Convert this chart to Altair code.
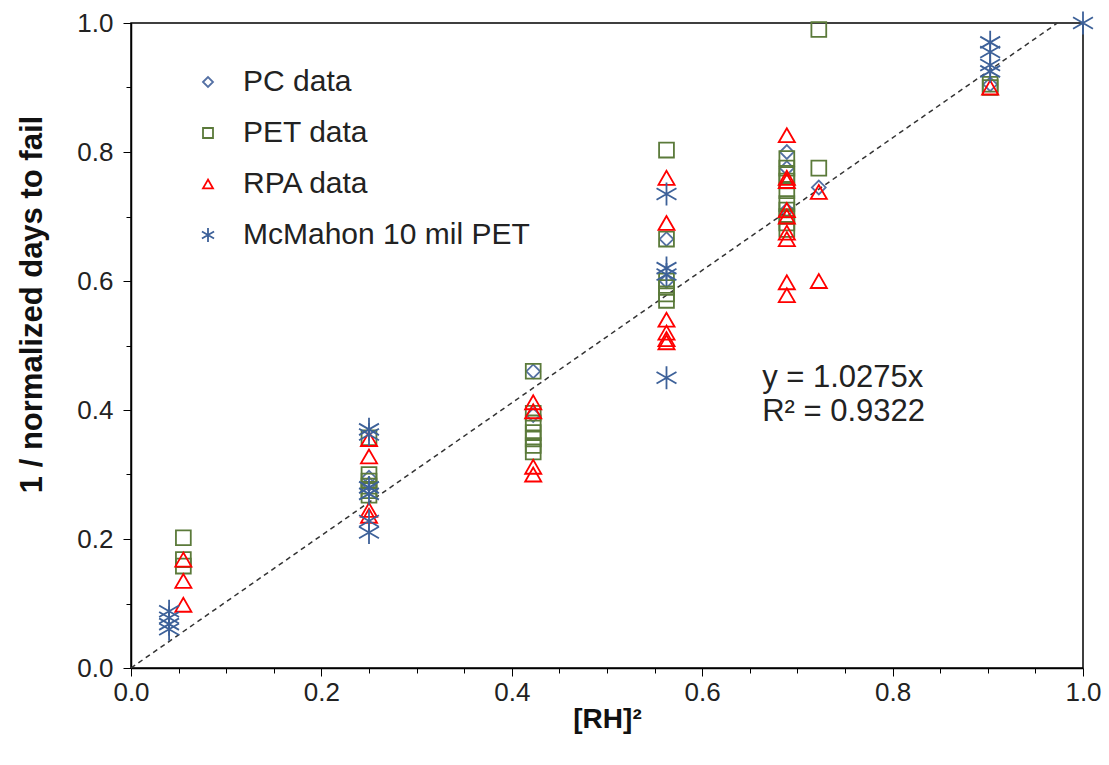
import altair as alt
import pandas as pd

# ---- data ----
pc_x = [0.25, 0.25, 0.4225, 0.4225, 0.5625, 0.5625, 0.6889, 0.6889, 0.6889, 0.7225, 0.9025]
pc_y = [0.295, 0.285, 0.46, 0.392, 0.665, 0.60, 0.80, 0.775, 0.71, 0.745, 0.905]

pet_x = [0.055] * 3 + [0.25] * 6 + [0.4225] * 7 + [0.5625] * 6 + [0.6889] * 10 + [0.7225] * 2 + [0.9025] * 2
pet_y = [0.202, 0.168, 0.158,
         0.357, 0.300, 0.290, 0.282, 0.275, 0.268,
         0.46, 0.395, 0.38, 0.365, 0.355, 0.345, 0.335,
         0.803, 0.665, 0.60, 0.59, 0.58, 0.57,
         0.79, 0.775, 0.765, 0.755, 0.74, 0.72, 0.71, 0.70, 0.69, 0.68,
         0.99, 0.775,
         0.905, 0.90]

rpa_x = [0.055] * 3 + [0.25] * 4 + [0.4225] * 4 + [0.5625] * 6 + [0.6889] * 9 + [0.7225] * 2 + [0.9025]
rpa_y = [0.168, 0.135, 0.098,
         0.355, 0.328, 0.245, 0.236,
         0.412, 0.398, 0.312, 0.300,
         0.76, 0.69, 0.54, 0.52, 0.51, 0.505,
         0.826, 0.76, 0.755, 0.71, 0.70, 0.675, 0.665, 0.598, 0.578,
         0.738, 0.60,
         0.90]

mcm_x = [0.04] * 4 + [0.25] * 6 + [0.5625] * 4 + [0.9025] * 4 + [1.0]
mcm_y = [0.088, 0.078, 0.068, 0.060,
         0.370, 0.362, 0.280, 0.270, 0.228, 0.210,
         0.735, 0.62, 0.61, 0.45,
         0.97, 0.955, 0.935, 0.925,
         1.0]

series_names = ["PC data", "PET data", "RPA data", "McMahon 10 mil PET"]
series_colors = ["#5470a4", "#5b7a3a", "#ff0000", "#3d6199"]
asterisk = "M0,-1.4L0,1.4M-1.212,-0.7L1.212,0.7M-1.212,0.7L1.212,-0.7"
series_shapes = ["diamond", "square", "triangle-up", asterisk]
series_sizes = [190, 220, 260, 270]

trend_x = [0.0, 0.9732]
trend_y = [0.0, 1.0]

eq_lines = ["y = 1.0275x", "R\u00b2 = 0.9322"]
eq_x = [0.663, 0.663]
eq_y = [0.449, 0.397]

FONT = "Liberation Sans"

x_scale = alt.Scale(domain=[0, 1], nice=False)
y_scale = alt.Scale(domain=[0, 1], nice=False)

tick_vals = [round(i * 0.05, 2) for i in range(21)]
major_test = "abs(datum.value*5 - round(datum.value*5)) < 0.001"
label_expr = f"{major_test} ? format(datum.value, '.1f') : ''"

x_axis = alt.Axis(values=tick_vals, labelExpr=label_expr, grid=False,
                  title="[RH]\u00b2", titleFontWeight="bold", titleFontSize=28,
                  titleFont=FONT, labelFont=FONT, labelFontSize=26, labelColor="#222222",
                  titleColor="#111111",
                  tickSize={"condition": {"test": major_test, "value": 8}, "value": 5},
                  tickColor="black", domainColor="black", domainWidth=1.5,
                  labelPadding=3, titlePadding=0, labelFlush=False)
y_axis = alt.Axis(values=tick_vals, labelExpr=label_expr, grid=False,
                  title="1 / normalized days to fail", titleFontWeight="bold", titleFontSize=31,
                  titleFont=FONT, labelFont=FONT, labelFontSize=26, labelColor="#222222",
                  titleColor="#111111", titleY=281,
                  tickSize={"condition": {"test": major_test, "value": 8}, "value": 5},
                  tickColor="black", domainColor="black", domainWidth=1.5,
                  labelPadding=10, titlePadding=28, labelFlush=False)

legend_common = dict(title=None, orient="none", legendX=62, legendY=44,
                     labelFont=FONT, labelFontSize=30, labelColor="#222222", labelLimit=0,
                     symbolSize=100, symbolStrokeWidth=1.8, rowPadding=21,
                     labelOffset=20)

color_scale = alt.Scale(domain=series_names, range=series_colors)
shape_scale = alt.Scale(domain=series_names, range=series_shapes)

trend = alt.Chart(pd.DataFrame({"x": trend_x, "y": trend_y})).mark_line(
    color="#333333", strokeDash=[5, 4], strokeWidth=1.5
).encode(x=alt.X("x:Q", scale=x_scale, axis=x_axis), y=alt.Y("y:Q", scale=y_scale, axis=y_axis))

layers = [trend]
for name, xs, ys, sz in zip(series_names, [pc_x, pet_x, rpa_x, mcm_x], [pc_y, pet_y, rpa_y, mcm_y], series_sizes):
    df = pd.DataFrame({"x": xs, "y": ys, "series": name})
    layers.append(
        alt.Chart(df).mark_point(filled=False, strokeWidth=1.8, opacity=1, size=sz).encode(
            x=alt.X("x:Q", scale=x_scale),
            y=alt.Y("y:Q", scale=y_scale),
            color=alt.Color("series:N", scale=color_scale, legend=alt.Legend(**legend_common)),
            shape=alt.Shape("series:N", scale=shape_scale, legend=alt.Legend(**legend_common)),
        )
    )

eq = alt.Chart(pd.DataFrame({"x": eq_x, "y": eq_y, "t": eq_lines})).mark_text(
    align="left", baseline="middle", font=FONT, fontSize=31, color="#222222"
).encode(x="x:Q", y="y:Q", text="t:N")
layers.append(eq)

chart = alt.layer(*layers).properties(
    width=952, height=645,
    autosize=alt.AutoSizeParams(type="none"),
    padding={"left": 131, "top": 23, "right": 26, "bottom": 97},
    background="white",
).configure_view(stroke="black", strokeWidth=1.5)

chart.save("out.html", embed_options={"renderer": "svg", "actions": False})
